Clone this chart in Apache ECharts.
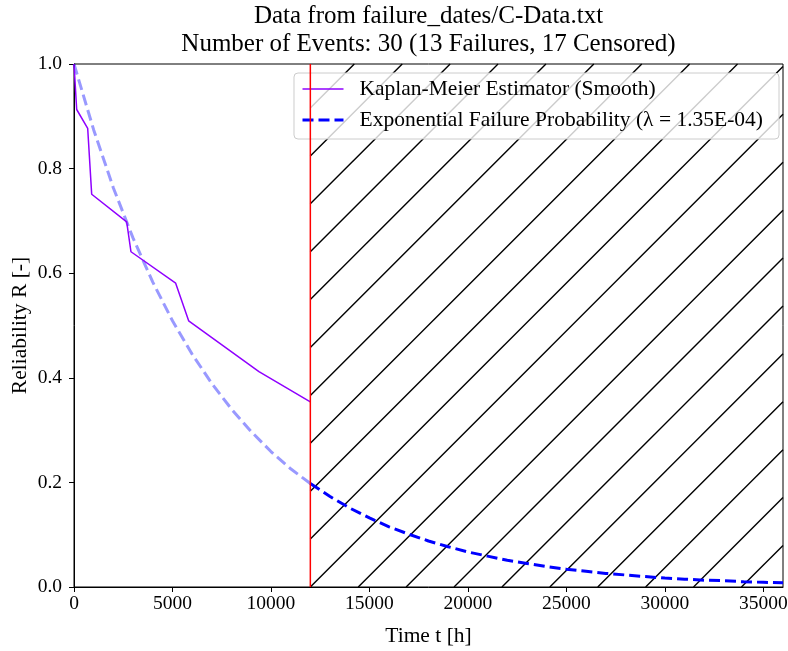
<!DOCTYPE html>
<html>
<head>
<meta charset="utf-8">
<script src="https://cdn.jsdelivr.net/npm/echarts@6/dist/echarts.min.js"></script>
<style>html,body{margin:0;padding:0;background:#fff}#chart{width:788px;height:651px}</style>
</head>
<body>
<div id="chart"></div>
<script>
// ---- data ----
const titleLines = ['Data from failure_dates/C-Data.txt', 'Number of Events: 30 (13 Failures, 17 Censored)'];
const kmName = 'Kaplan-Meier Estimator (Smooth)';
const expName = 'Exponential Failure Probability (λ = 1.35E-04)';
const kmTime = [0, 137, 695, 898, 2675, 2893, 5162, 5822, 9391, 12000];
const kmRel  = [1.0, 0.913, 0.877, 0.751, 0.698, 0.641, 0.581, 0.509, 0.412, 0.354];
const expTime = [0,1000,2000,3000,4000,5000,6000,7000,8000,9000,10000,11000,12000,13000,14000,15000,16000,17000,18000,19000,20000,21000,22000,23000,24000,25000,26000,27000,28000,29000,30000,31000,32000,33000,34000,35000,36000];
const expRel  = [1.000,0.874,0.763,0.667,0.583,0.509,0.445,0.389,0.340,0.297,0.259,0.226,0.198,0.173,0.151,0.132,0.115,0.101,0.088,0.077,0.067,0.059,0.051,0.045,0.039,0.034,0.030,0.026,0.023,0.020,0.017,0.015,0.013,0.012,0.010,0.009,0.008];
const censorStart = 12000;
const xMin = 0, xMax = 36000;
const xTicks = [0, 5000, 10000, 15000, 20000, 25000, 30000, 35000];
const yMin = 0, yMax = 1, yStep = 0.2;

const FONT = 'Liberation Serif';
const kmData = kmTime.map((t, i) => [t, kmRel[i]]);
const expObs = expTime.map((t, i) => [t, expRel[i]]).filter(d => d[0] <= censorStart);
const expExt = expTime.map((t, i) => [t, expRel[i]]).filter(d => d[0] >= censorStart);

const chart = echarts.init(document.getElementById('chart'), null, {renderer: 'canvas'});
const HATCH = 47.9;
const DASH = [11, 5];

chart.setOption({
  animation: false,
  backgroundColor: '#fff',
  textStyle: {fontFamily: FONT},
  graphic: [
    {type: 'text', x: 428.5, y: 16, style: {text: titleLines[0], font: '25px ' + FONT, fill: '#000', textAlign: 'center', textVerticalAlign: 'middle'}},
    {type: 'text', x: 428.5, y: 44, style: {text: titleLines[1], font: '25px ' + FONT, fill: '#000', textAlign: 'center', textVerticalAlign: 'middle'}}
  ],
  grid: {left: 74, right: 5, top: 64, bottom: 64, show: true, borderColor: '#000', borderWidth: 1, containLabel: false, outerBoundsMode: 'none'},
  legend: {
    orient: 'vertical', right: 9, top: 73,
    data: [
      {name: kmName, lineStyle: {width: 1.5, color: '#8f00ff', type: 'solid'}},
      {name: expName, lineStyle: {width: 3, color: '#0000ff', type: DASH}}
    ],
    itemWidth: 41, itemHeight: 14, itemGap: 9,
    padding: [5, 16, 8, 7],
    itemStyle: {opacity: 0},
    backgroundColor: 'rgba(255,255,255,0.8)', borderColor: '#cccccc', borderWidth: 1, borderRadius: 4,
    textStyle: {fontFamily: FONT, fontSize: 21.5, lineHeight: 22, color: '#000', padding: [0, 0, 0, 11]},
    selectedMode: false
  },
  xAxis: {
    type: 'value', min: xMin, max: xMax,
    name: 'Time t [h]', nameLocation: 'middle', nameGap: 38, nameMoveOverlap: false,
    nameTextStyle: {fontFamily: FONT, fontSize: 21.5, color: '#000'},
    axisLine: {show: true, lineStyle: {color: '#000', width: 1}},
    axisTick: {show: true, inside: false, length: 5, lineStyle: {color: '#000'}, customValues: xTicks},
    axisLabel: {fontFamily: FONT, fontSize: 19.5, color: '#000', margin: 7, customValues: xTicks, formatter: v => String(v)},
    splitLine: {show: false}
  },
  yAxis: {
    type: 'value', min: yMin, max: yMax, interval: yStep,
    name: 'Reliability R [-]', nameLocation: 'middle', nameGap: 43, nameMoveOverlap: false,
    nameTextStyle: {fontFamily: FONT, fontSize: 21.5, color: '#000'},
    axisLine: {show: true, lineStyle: {color: '#000', width: 1}},
    axisTick: {show: true, inside: false, length: 5, lineStyle: {color: '#000'}},
    axisLabel: {fontFamily: FONT, fontSize: 19.5, color: '#000', margin: 12, formatter: v => v.toFixed(1)},
    splitLine: {show: false}
  },
  series: [
    {
      type: 'custom', name: 'hatch', silent: true, z: 1,
      data: [[censorStart, yMin, xMax, yMax]],
      encode: {x: [0, 2], y: [1, 3]},
      renderItem: function (params, api) {
        const tl = api.coord([api.value(0), api.value(3)]);
        const br = api.coord([api.value(2), api.value(1)]);
        const x0 = tl[0], y0 = tl[1], x1 = br[0], y1 = br[1];
        const c0 = x0 + y1;
        const children = [];
        for (let k = -40; k <= 40; k++) {
          const c = c0 + k * HATCH;
          const xs = Math.max(x0, c - y1);
          const xe = Math.min(x1, c - y0);
          if (xe - xs > 0.5) {
            children.push({type: 'line', shape: {x1: xs, y1: c - xs, x2: xe, y2: c - xe},
              style: {stroke: '#000', lineWidth: 1.4}});
          }
        }
        return {type: 'group', children: children};
      }
    },
    {
      type: 'line', name: 'expObs', data: expObs, showSymbol: false, symbol: 'none', z: 3,
      lineStyle: {color: 'rgba(0,0,255,0.4)', width: 3, type: DASH}, itemStyle: {color: 'rgba(0,0,255,0.4)'}
    },
    {
      type: 'line', name: expName, data: expExt, showSymbol: false, symbol: 'none', z: 3,
      lineStyle: {color: '#0000ff', width: 3, type: DASH}, itemStyle: {color: '#0000ff'}
    },
    {
      type: 'line', name: kmName, data: kmData, showSymbol: false, symbol: 'none', z: 4,
      lineStyle: {color: '#8f00ff', width: 1.5}, itemStyle: {color: '#8f00ff'}
    },
    {
      type: 'line', name: 'censor', data: [[censorStart, yMin], [censorStart, yMax]], showSymbol: false, symbol: 'none', z: 5,
      lineStyle: {color: '#ff0000', width: 1.5}, itemStyle: {color: '#ff0000'}
    }
  ]
});
</script>
</body>
</html>
